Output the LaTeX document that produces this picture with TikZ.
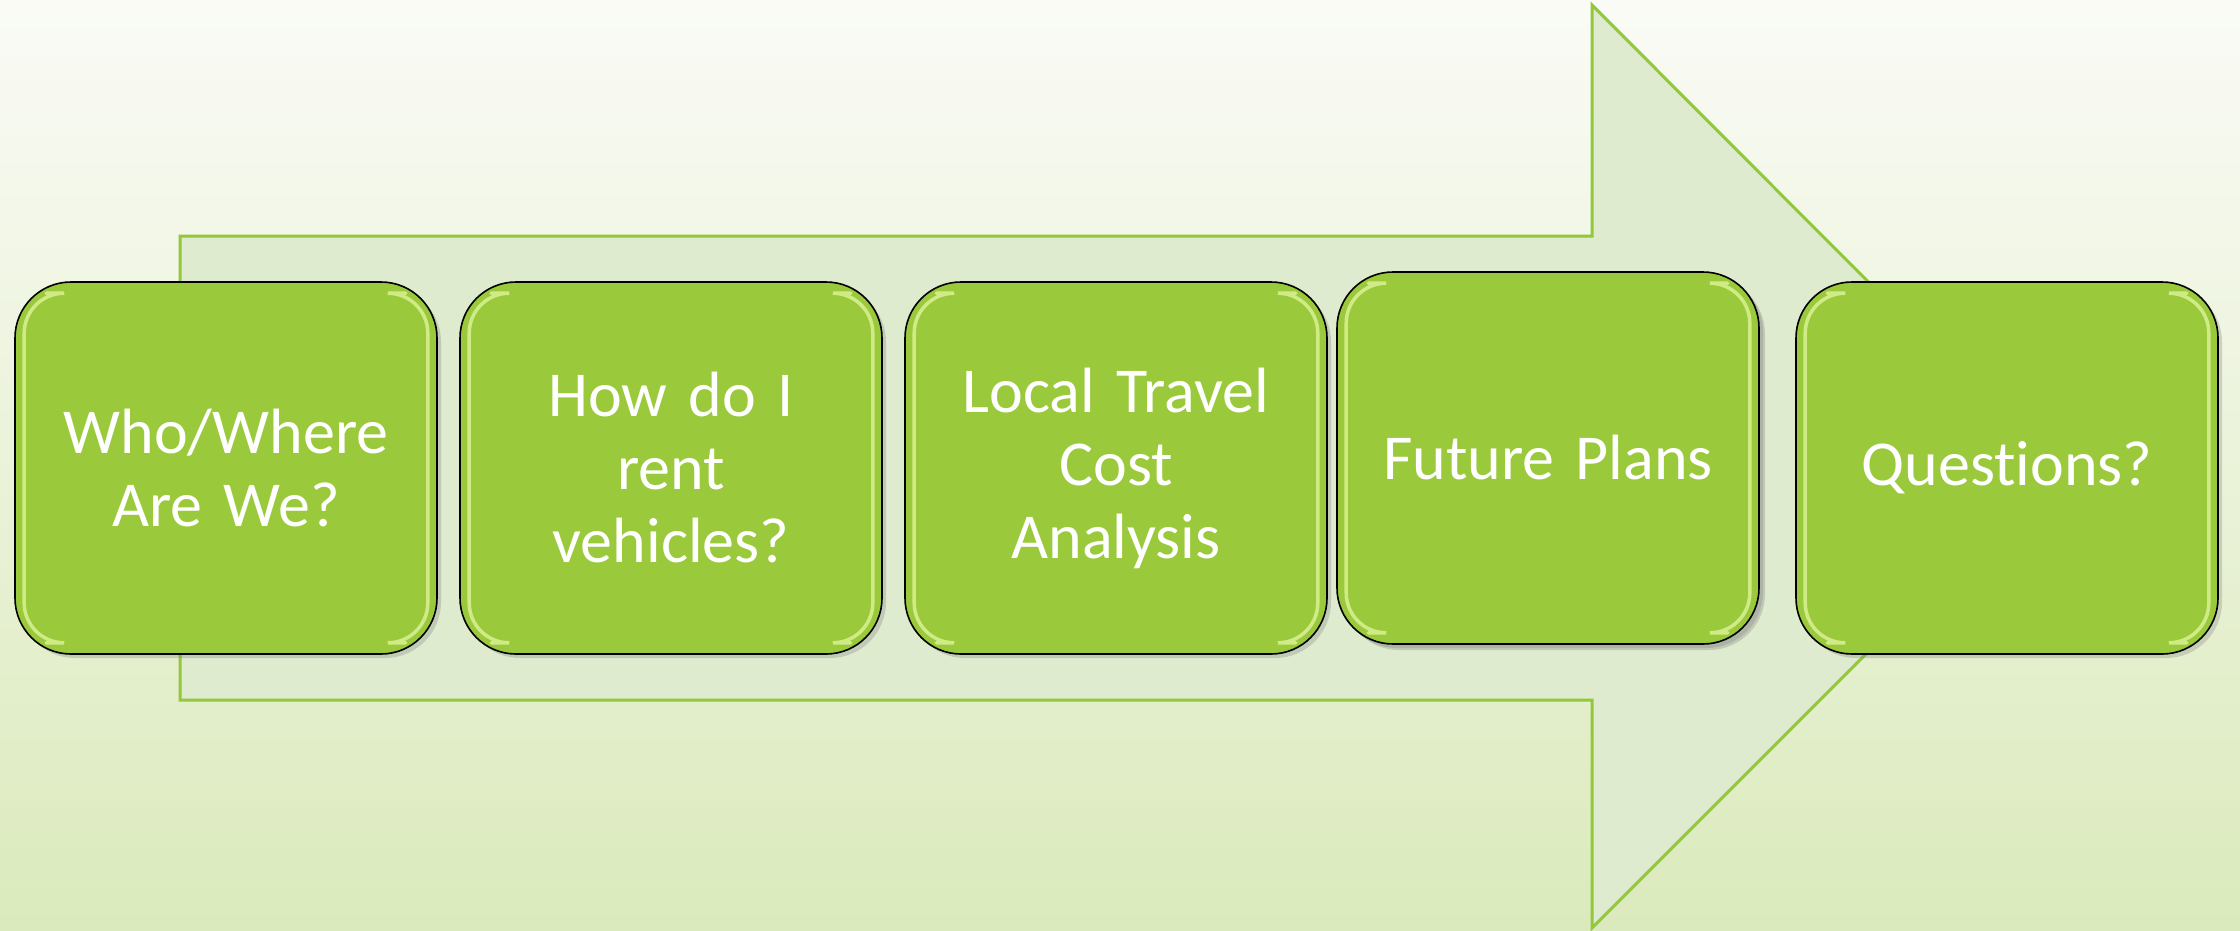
\documentclass[tikz,border=0pt]{standalone}
\usepackage{fontspec}
\setmainfont{Carlito}[Ligatures=CommonOff]
\usetikzlibrary{shadows}
\definecolor{bgtop}{RGB}{250,251,246}
\definecolor{bgbottom}{RGB}{219,234,188}
\definecolor{arrowfill}{RGB}{222,235,206}
\definecolor{arrowline}{RGB}{146,200,58}
\definecolor{boxfill}{RGB}{154,202,60}
\definecolor{boxshine}{RGB}{232,248,165}

\begin{document}
\begin{tikzpicture}[x=1pt, y=-1pt,
    topic/.style={rounded corners=56pt, draw=black, line width=1.6pt, fill=boxfill,
      minimum width=422pt, minimum height=372pt, inner sep=0pt, text width=400pt,
      align=center, text=white, font=\fontsize{64}{73}\selectfont,
      drop shadow={shadow xshift=4pt, shadow yshift=-4pt, opacity=0.3}},
    shine/.style={draw=boxshine, line width=3.5pt, opacity=0.7, line cap=round}]

      \shade[top color=bgtop, bottom color=bgbottom] (0, 0) rectangle (2240, 930);
      \useasboundingbox (0, 0) rectangle (2240, 930);

      % big arrow behind the steps
      \draw[draw=arrowline, line width=3pt, fill=arrowfill]
        (180, 236) -- (1592, 236) -- (1592, 5) -- (2053, 467) -- (1592, 928)
        -- (1592, 700) -- (180, 700) -- cycle;

      \node[topic] (1) at (226, 468) {Who/Where\\Are We?};
      \node[topic] (2) at (671, 468) {How do I\\rent\\vehicles?};
      \node[topic] (3) at (1116, 468) {Local Travel\\Cost\\Analysis};
      \node[topic, drop shadow={shadow xshift=6pt, shadow yshift=-6pt, opacity=0.3}] (4) at (1548, 458) {Future Plans};
      \node[topic] (5) at (2007, 468) {Questions?};

      % glossy edges
      \foreach \n in {1,...,5} {
        \draw[shine, rounded corners=40pt] ([xshift=32pt, yshift=-12pt]\n.north west)
          -- ([xshift=10pt, yshift=-12pt]\n.north west) -- ([xshift=10pt, yshift=12pt]\n.south west)
          -- ([xshift=32pt, yshift=12pt]\n.south west);
        \draw[shine, rounded corners=40pt] ([xshift=-32pt, yshift=-12pt]\n.north east)
          -- ([xshift=-10pt, yshift=-12pt]\n.north east) -- ([xshift=-10pt, yshift=12pt]\n.south east)
          -- ([xshift=-32pt, yshift=12pt]\n.south east);
      }
    \end{tikzpicture}
\end{document}
